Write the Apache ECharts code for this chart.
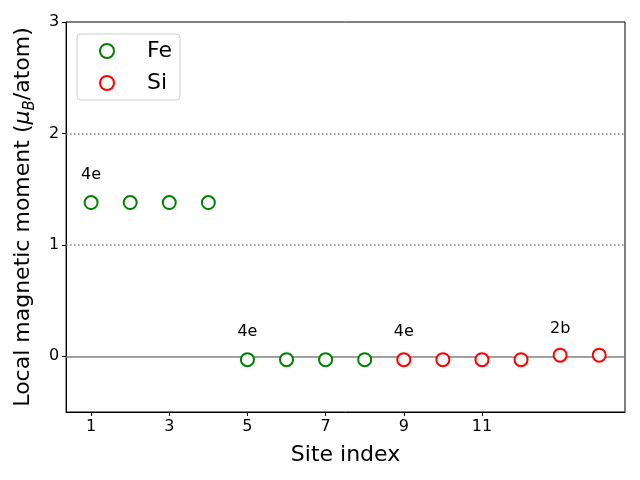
<!DOCTYPE html>
<html><head><meta charset="utf-8">
<script src="https://cdn.jsdelivr.net/npm/echarts@6/dist/echarts.min.js"></script>
<style>html,body{margin:0;padding:0;background:#fff}#c{width:640px;height:480px}</style>
</head><body><div id="c"></div>
<script>
const feX = [1, 2, 3, 4, 5, 6, 7, 8];
const feY = [1.38, 1.38, 1.38, 1.38, -0.03, -0.03, -0.03, -0.03];
const siX = [9, 10, 11, 12, 13, 14];
const siY = [-0.03, -0.03, -0.03, -0.03, 0.01, 0.01];
const annX = [1, 5, 9, 13];
const annY = [1.63, 0.22, 0.22, 0.25];
const annText = ['4e', '4e', '4e', '2b'];
const xTicks = [1, 3, 5, 7, 9, 11];
const yTicks = [0, 1, 2, 3];
const refLines = [0, 1, 2];

const F = 'DejaVu Sans';
const chart = echarts.init(document.getElementById('c'));
chart.setOption({
  animation: false,
  textStyle: {fontFamily: F},
  grid: {left: 66, right: 15, top: 22, bottom: 68, show: true, borderColor: '#000', borderWidth: 1, backgroundColor: 'transparent'},
  xAxis: {
    type: 'value', min: 0.36, max: 14.66,
    name: 'Site index', nameLocation: 'middle', nameGap: 32,
    nameTextStyle: {fontSize: 22, color: '#000', fontFamily: F},
    axisLine: {show: true, onZero: false, lineStyle: {color: '#000'}},
    axisTick: {show: true, length: 4, customValues: xTicks, lineStyle: {color: '#000'}},
    axisLabel: {customValues: xTicks, fontSize: 16, color: '#000', margin: 7, fontFamily: F},
    splitLine: {show: false}
  },
  yAxis: {
    type: 'value', min: -0.5, max: 3,
    name: 'Local magnetic moment ({i|μ}{s|B}/atom)', nameLocation: 'middle', nameGap: 23,
    nameTextStyle: {fontSize: 22, color: '#000', fontFamily: F, lineHeight: 30,
      rich: {i: {fontSize: 22, fontStyle: 'italic', fontFamily: F, lineHeight: 30, color: '#000'},
             s: {fontSize: 15, fontStyle: 'italic', fontFamily: F, lineHeight: 15, verticalAlign: 'bottom', color: '#000'}}},
    axisLine: {show: true, onZero: false, lineStyle: {color: '#000'}},
    axisTick: {show: true, length: 4, customValues: yTicks, lineStyle: {color: '#000'}},
    axisLabel: {customValues: yTicks, fontSize: 16, color: '#000', margin: 7, fontFamily: F},
    splitLine: {show: false}
  },
  legend: {
    orient: 'vertical', left: 77, top: 34,
    padding: [6, 8, 6, 22], itemGap: 10, itemWidth: 14, itemHeight: 14,
    backgroundColor: 'rgba(255,255,255,0.8)', borderColor: '#cccccc', borderWidth: 1, borderRadius: 4,
    textStyle: {fontSize: 22, color: '#000', fontFamily: F, lineHeight: 22, padding: [0, 0, 0, 28]},
    data: ['Fe', 'Si']
  },
  series: [
    {
      name: 'lines', type: 'line', data: [], silent: true,
      markLine: {
        silent: true, symbol: 'none', label: {show: false},
        data: refLines.map(v => ({yAxis: v, lineStyle: v === 0
          ? {color: '#808080', width: 1.5, type: 'solid'}
          : {color: '#808080', width: 1.5, type: [1.5, 2.5]}}))
      }
    },
    {
      name: 'Fe', type: 'scatter', symbol: 'emptyCircle', symbolSize: 13, z: 5,
      itemStyle: {color: '#008000', borderColor: '#008000', borderWidth: 1.2, opacity: 1},
      data: feX.map((x, i) => [x, feY[i]])
    },
    {
      name: 'Si', type: 'scatter', symbol: 'emptyCircle', symbolSize: 13, z: 5,
      itemStyle: {color: '#ff0000', borderColor: '#ff0000', borderWidth: 1.2, opacity: 1},
      data: siX.map((x, i) => [x, siY[i]])
    },
    {
      name: 'ann', type: 'scatter', symbolSize: 0, silent: true,
      itemStyle: {opacity: 1},
      label: {show: true, position: 'inside', formatter: p => annText[p.dataIndex], fontSize: 16, color: '#000', opacity: 1, fontFamily: F},
      data: annX.map((x, i) => [x, annY[i]])
    }
  ]
});
</script></body></html>
